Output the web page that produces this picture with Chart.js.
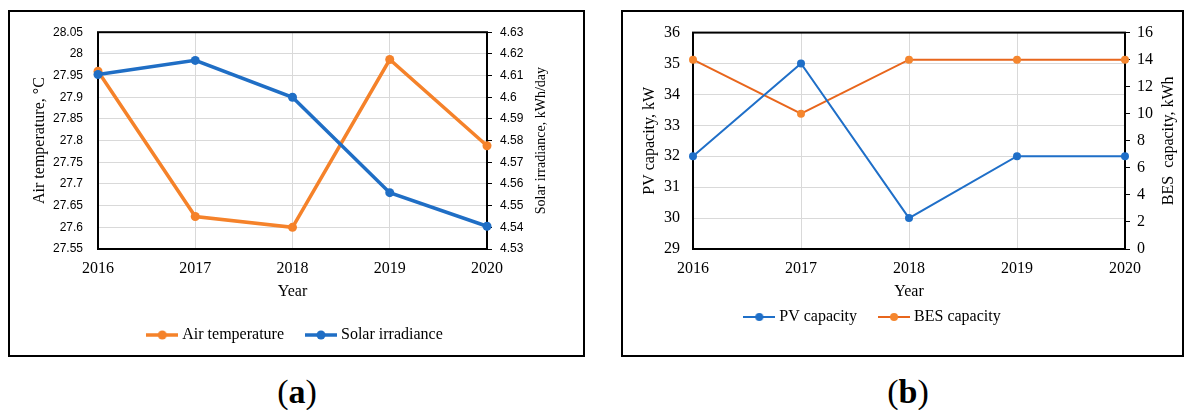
<!DOCTYPE html>
<html>
<head>
<meta charset="utf-8">
<script src="https://cdn.jsdelivr.net/npm/chart.js@4"></script>
<style>
  body { margin: 0; width: 1190px; height: 410px; background: #fff; position: relative; font-family: "Liberation Serif", serif; }
  .box { position: absolute; top: 10px; height: 347px; border: 2px solid #000; box-sizing: border-box; }
  canvas { position: absolute; top: 10px; }
  .tag { position: absolute; top: 372px; font-size: 34px; line-height: 40px; transform: translateX(-50%); }
</style>
</head>
<body>
<div class="box" style="left:8px;width:577px"></div>
<div class="box" style="left:621px;width:563px"></div>
<canvas id="ClimateChart" width="577" height="347" style="left:8px"></canvas>
<canvas id="CapacityChart" width="597" height="347" style="left:593px"></canvas>
<div class="tag" style="left:297px">(<b>a</b>)</div>
<div class="tag" style="left:908px">(<b>b</b>)</div>
<script>
const years = ["2016", "2017", "2018", "2019", "2020"];

const airTemperature = [27.96, 27.625, 27.6, 27.987, 27.788];
const solarIrradiance = [4.6105, 4.617, 4.6, 4.556, 4.5405];
const temperatureTicks = [27.55, 27.6, 27.65, 27.7, 27.75, 27.8, 27.85, 27.9, 27.95, 28, 28.05];
const irradianceTicks = [4.53, 4.54, 4.55, 4.56, 4.57, 4.58, 4.59, 4.6, 4.61, 4.62, 4.63];

const pvCapacity = [32, 35, 30, 32, 32];
const besCapacity = [14, 10, 14, 14, 14];
const pvTicks = [29, 30, 31, 32, 33, 34, 35, 36];
const besTicks = [0, 2, 4, 6, 8, 10, 12, 14, 16];

const serif = "Liberation Serif";
const gridGrey = "#d9d9d9";
const orangeA = "#f5822a";
const blueA = "#1f6ec5";
const blueB = "#1f6fc8";
const orangeLineB = "#e8661c";
const orangeDotB = "#f5862e";

Chart.defaults.color = "#000";
Chart.defaults.font.family = serif;

// line + dot swatch for the legend
function marker(line, dot, lw, r) {
  const c = document.createElement("canvas");
  c.width = 32;
  c.height = 12;
  const g = c.getContext("2d");
  g.strokeStyle = line;
  g.lineWidth = lw;
  g.beginPath();
  g.moveTo(0, 6);
  g.lineTo(32, 6);
  g.stroke();
  g.fillStyle = dot;
  g.beginPath();
  g.arc(16, 6, r, 0, Math.PI * 2);
  g.fill();
  return c;
}

function legendWith(markers) {
  return (chart) =>
    chart.data.datasets.map((ds, i) => ({
      text: ds.label,
      pointStyle: markers[i],
      datasetIndex: i,
      hidden: false,
      fontColor: "#000",
      lineWidth: 0,
      fillStyle: "transparent",
      strokeStyle: "transparent",
    }));
}

function fixTicks(list) {
  return (scale) => { scale.ticks = list.map((v) => ({ value: v })); };
}
function fixWidth(w) {
  return (scale) => { scale.width = w; };
}
function fixHeight(h) {
  return (scale) => { scale.height = h; };
}

// plot frame, "Year" and the right-hand title (reads bottom to top)
const frame = {
  id: "frame",
  beforeDatasetsDraw(chart) {
    const { ctx, chartArea: a } = chart;
    ctx.save();
    ctx.strokeStyle = "#000";
    ctx.lineWidth = 2;
    ctx.strokeRect(a.left, a.top, a.right - a.left, a.bottom - a.top);
    ctx.restore();
  },
  afterDraw(chart, args, opts) {
    const { ctx, chartArea: a } = chart;
    ctx.save();
    ctx.fillStyle = "#000";
    ctx.textAlign = "center";
    ctx.textBaseline = "middle";
    ctx.font = '16px "Liberation Serif"';
    ctx.fillText("Year", (a.left + a.right) / 2, a.bottom + 43);
    ctx.translate(a.right + opts.rightGap, (a.top + a.bottom) / 2);
    ctx.rotate(-Math.PI / 2);
    ctx.font = opts.rightFont;
    ctx.fillText(opts.rightTitle, 0, 0);
    ctx.restore();
  },
};

const xAxis = (h) => ({
  offset: false,
  grid: { color: gridGrey, drawTicks: false },
  border: { display: false },
  ticks: { padding: 10, maxRotation: 0, font: { family: serif, size: 16 } },
  afterFit: fixHeight(h),
});

new Chart(document.getElementById("ClimateChart"), {
  type: "line",
  data: {
    labels: years,
    datasets: [
      {
        label: "Air temperature",
        data: airTemperature,
        yAxisID: "y",
        borderColor: orangeA,
        backgroundColor: orangeA,
        borderWidth: 3.5,
        pointRadius: 4.5,
        pointHoverRadius: 4.5,
        pointBorderWidth: 0,
        order: 1,
        clip: false,
      },
      {
        label: "Solar irradiance",
        data: solarIrradiance,
        yAxisID: "y1",
        borderColor: blueA,
        backgroundColor: blueA,
        borderWidth: 3.5,
        pointRadius: 4.5,
        pointHoverRadius: 4.5,
        pointBorderWidth: 0,
        order: 0,
        clip: false,
      },
    ],
  },
  options: {
    responsive: false,
    animation: false,
    layout: { padding: { left: 0, top: 18, right: 0, bottom: 4 } },
    scales: {
      x: xAxis(53),
      y: {
        position: "left",
        min: 27.55,
        max: 28.05,
        afterBuildTicks: fixTicks(temperatureTicks),
        afterFit: fixWidth(90),
        grid: { color: gridGrey, drawTicks: false },
        border: { display: false },
        ticks: { padding: 15, font: { family: "Liberation Sans", size: 12 }, callback: (v) => String(v) },
        title: { display: true, text: "Air temperature, °C", font: { family: serif, size: 16 }, padding: { top: 22, bottom: 0 } },
      },
      y1: {
        position: "right",
        min: 4.53,
        max: 4.63,
        afterBuildTicks: fixTicks(irradianceTicks),
        afterFit: fixWidth(98),
        grid: { drawOnChartArea: false, drawTicks: true, tickLength: 5, color: "#000" },
        border: { display: false },
        ticks: { padding: 8, font: { family: "Liberation Sans", size: 12 }, callback: (v) => String(v) },
      },
    },
    plugins: {
      legend: {
        position: "bottom",
        labels: {
          usePointStyle: true,
          pointStyleWidth: 24,
          padding: 25,
          font: { family: serif, size: 16 },
          generateLabels: legendWith([marker(orangeA, orangeA, 3.5, 4.5), marker(blueA, blueA, 3.5, 4.5)]),
        },
      },
      tooltip: { enabled: false },
      frame: { rightTitle: "Solar irradiance, kWh/day", rightFont: '14px "Liberation Serif"', rightGap: 54 },
    },
  },
  plugins: [frame],
});

new Chart(document.getElementById("CapacityChart"), {
  type: "line",
  data: {
    labels: years,
    datasets: [
      {
        label: "PV capacity",
        data: pvCapacity,
        yAxisID: "y",
        borderColor: blueB,
        backgroundColor: blueB,
        borderWidth: 2,
        pointRadius: 4,
        pointHoverRadius: 4,
        pointBorderWidth: 0,
        clip: false,
      },
      {
        label: "BES capacity",
        data: besCapacity,
        yAxisID: "y1",
        borderColor: orangeLineB,
        backgroundColor: orangeDotB,
        borderWidth: 2,
        pointRadius: 4,
        pointHoverRadius: 4,
        pointBorderWidth: 0,
        clip: false,
      },
    ],
  },
  options: {
    responsive: false,
    animation: false,
    layout: { padding: { left: 0, top: 18, right: 35, bottom: 22 } },
    scales: {
      x: xAxis(35),
      y: {
        position: "left",
        min: 29,
        max: 36,
        afterBuildTicks: fixTicks(pvTicks),
        afterFit: fixWidth(100),
        grid: { color: gridGrey, drawTicks: false },
        border: { display: false },
        ticks: { padding: 13, font: { family: serif, size: 16 } },
        title: { display: true, text: "PV capacity, kW", font: { family: serif, size: 16 }, padding: { top: 47, bottom: 0 } },
      },
      y1: {
        position: "right",
        min: 0,
        max: 16,
        afterBuildTicks: fixTicks(besTicks),
        afterFit: fixWidth(30),
        grid: { drawOnChartArea: false, drawTicks: true, tickLength: 5, color: "#000" },
        border: { display: false },
        ticks: { padding: 7, font: { family: serif, size: 16 } },
      },
    },
    plugins: {
      legend: {
        position: "bottom",
        labels: {
          usePointStyle: true,
          pointStyleWidth: 24,
          padding: 25,
          font: { family: serif, size: 16 },
          generateLabels: legendWith([marker(blueB, blueB, 2, 4), marker(orangeLineB, orangeDotB, 2, 4)]),
        },
      },
      tooltip: { enabled: false },
      frame: { rightTitle: "BES  capacity, kWh", rightFont: '16px "Liberation Serif"', rightGap: 44 },
    },
  },
  plugins: [frame],
});
</script>
</body>
</html>
